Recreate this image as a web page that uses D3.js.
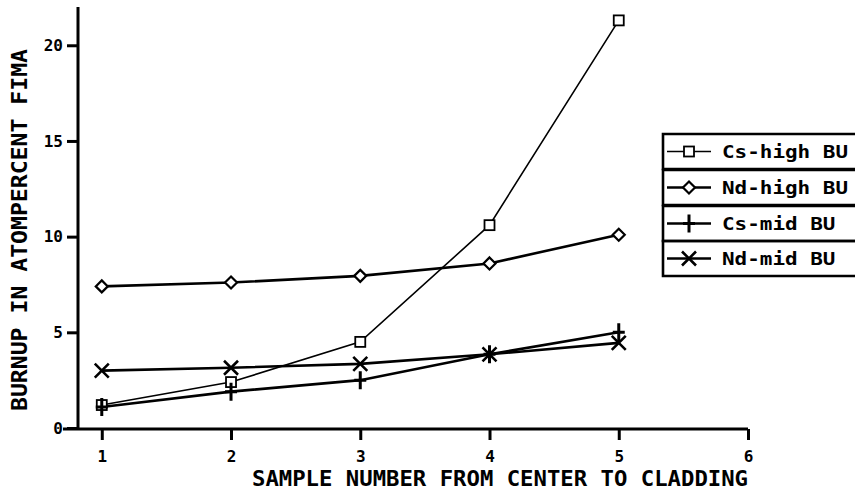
<!DOCTYPE html>
<html>
<head>
<meta charset="utf-8">
<script src="https://cdn.jsdelivr.net/npm/d3@7"></script>
<style>
  html, body { margin: 0; padding: 0; background: #fff; }
  svg text { font-family: "DejaVu Sans Mono", "Liberation Mono", monospace; font-weight: bold; fill: #000; }
</style>
</head>
<body>
<svg id="chart" width="855" height="491"></svg>
<script>
// Sample positions (center to cladding) and burnup values, atom-% FIMA
const samples = [1, 2, 3, 4, 5];
const csHigh = [1.2, 2.4, 4.5, 10.6, 21.3];
const ndHigh = [7.4, 7.6, 7.95, 8.6, 10.1];
const csMid  = [1.1, 1.9, 2.5, 3.85, 5.0];
const ndMid  = [3.0, 3.15, 3.35, 3.85, 4.45];

const xTicks = [1, 2, 3, 4, 5, 6];
const yTicks = [0, 5, 10, 15, 20];
const seriesNames = ["Cs-high BU", "Nd-high BU", "Cs-mid BU", "Nd-mid BU"];

const svg = d3.select("#chart");

const x = d3.scaleLinear().domain([0.7, 6]).range([63, 748]);
const y = d3.scaleLinear().domain([0, 22]).range([428, 7]);

// axes
const xAxis = d3.axisBottom(x).tickValues(xTicks).tickFormat(d3.format("d")).tickSize(11).tickPadding(11);
const yAxis = d3.axisLeft(y).tickValues(yTicks).tickFormat(d3.format("d")).tickSize(11).tickPadding(4);

const gx = svg.append("g").attr("transform", "translate(0,429)").call(xAxis);
const gy = svg.append("g").attr("transform", "translate(78,0)").call(yAxis);

[gx, gy].forEach(g => {
  g.select(".domain").attr("stroke", "#000").attr("stroke-width", 3);
  g.selectAll(".tick line").attr("stroke", "#000").attr("stroke-width", 3);
  g.selectAll(".tick text").style("font-size", "16px").attr("fill", "#000");
});
gx.select(".domain").attr("d", `M${x(0.7)},0H${x(6)}`);
gy.select(".domain").attr("d", `M0,${y(0)}V${y(22)}`);

// axis titles
svg.append("text")
  .attr("x", 252).attr("y", 486)
  .attr("textLength", 496).attr("lengthAdjust", "spacingAndGlyphs")
  .style("font-size", "21px")
  .text("SAMPLE NUMBER FROM CENTER TO CLADDING");

svg.append("text")
  .attr("transform", "translate(27,411) rotate(-90)")
  .attr("textLength", 362).attr("lengthAdjust", "spacingAndGlyphs")
  .style("font-size", "21px")
  .text("BURNUP IN ATOMPERCENT FIMA");

// marker drawers
const markers = {
  square: (g, cx, cy) => g.append("rect").attr("x", cx - 5).attr("y", cy - 5).attr("width", 10).attr("height", 10)
      .attr("fill", "#fff").attr("stroke", "#000").attr("stroke-width", 1.8),
  diamond: (g, cx, cy) => g.append("path").attr("d", `M${cx},${cy - 6}L${cx + 6},${cy}L${cx},${cy + 6}L${cx - 6},${cy}Z`)
      .attr("fill", "#fff").attr("stroke", "#000").attr("stroke-width", 2.2),
  plus: (g, cx, cy) => g.append("path").attr("d", `M${cx},${cy - 9}V${cy + 9}M${cx - 6},${cy}H${cx + 6}`)
      .attr("stroke", "#000").attr("stroke-width", 3),
  cross: (g, cx, cy) => g.append("path").attr("d", `M${cx - 7},${cy - 7}L${cx + 7},${cy + 7}M${cx - 7},${cy + 7}L${cx + 7},${cy - 7}`)
      .attr("stroke", "#000").attr("stroke-width", 2.6)
};

const series = [
  { name: seriesNames[0], values: csHigh, marker: "square", width: 1.6 },
  { name: seriesNames[1], values: ndHigh, marker: "diamond", width: 2.6 },
  { name: seriesNames[2], values: csMid, marker: "plus", width: 2.6 },
  { name: seriesNames[3], values: ndMid, marker: "cross", width: 2.6 }
];

const line = d3.line().x(d => x(d[0])).y(d => y(d[1]));

const plot = svg.append("g");
series.forEach(s => {
  const pts = samples.map((v, i) => [v, s.values[i]]);
  plot.append("path").attr("d", line(pts)).attr("fill", "none")
    .attr("stroke", "#000").attr("stroke-width", s.width);
});
series.forEach(s => {
  samples.forEach((v, i) => markers[s.marker](plot, x(v), y(s.values[i])));
});

// legend: stacked boxed rows running off the right edge
const legend = svg.append("g");
const rowTop = [134, 170, 206, 241];
const rowH = 35;
series.forEach((s, i) => {
  const top = rowTop[i];
  legend.append("path")
    .attr("d", `M870,${top}H663V${top + rowH}H870`)
    .attr("fill", "none").attr("stroke", "#000").attr("stroke-width", 2.6);
  const cy = top + rowH / 2;
  legend.append("line").attr("x1", 667).attr("x2", 711).attr("y1", cy).attr("y2", cy)
    .attr("stroke", "#000").attr("stroke-width", s.width);
  markers[s.marker](legend, 689, cy);
  legend.append("text")
    .attr("x", 722).attr("y", cy + 6)
    .attr("textLength", s.name.length * 12.6).attr("lengthAdjust", "spacingAndGlyphs")
    .style("font-size", "17px")
    .text(s.name);
});
</script>
</body>
</html>
